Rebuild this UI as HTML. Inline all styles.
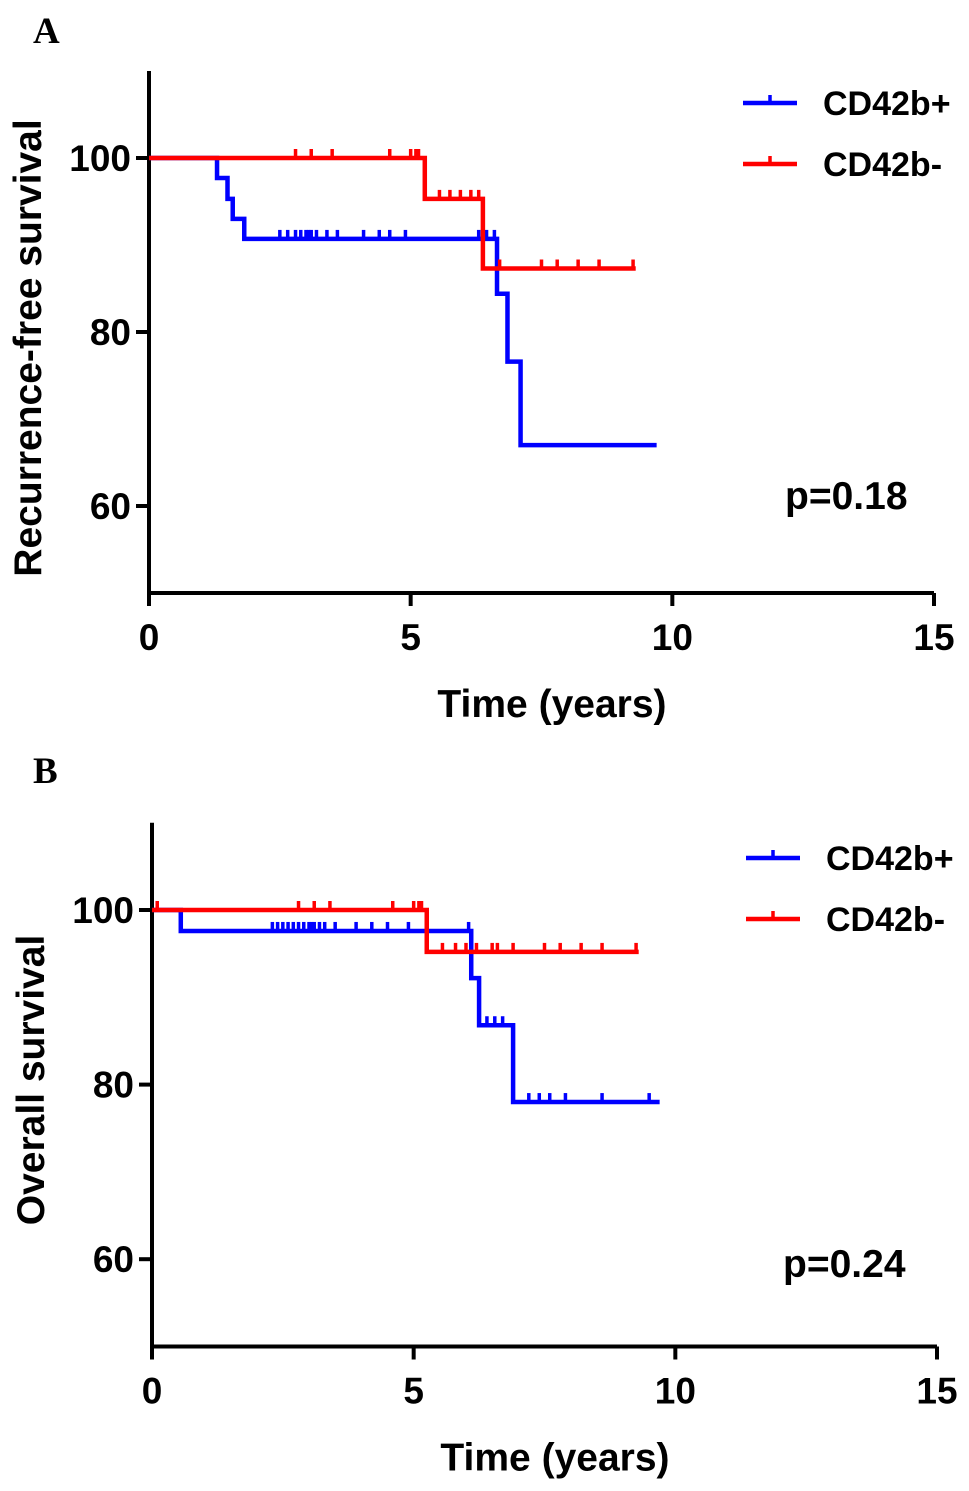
<!DOCTYPE html>
<html><head><meta charset="utf-8"><style>
html,body{margin:0;padding:0;background:#fff;}
svg{display:block;font-family:"Liberation Sans",Arial,sans-serif;}
</style></head><body>
<svg id="fig" width="969" height="1491" viewBox="0 0 969 1491" xmlns="http://www.w3.org/2000/svg"></svg>
<script>
// Panel A data (Recurrence-free survival)
const xTicks = [0, 5, 10, 15];
const yTicks = [60, 80, 100];
const aBlueT = [0, 1.3, 1.5, 1.6, 1.82, 6.65, 6.85, 7.1, 9.7];
const aBlueS = [100, 97.7, 95.3, 93.0, 90.7, 84.4, 76.6, 67.0, 67.0];
const aBlueCens = [2.5,2.65,2.8,2.9,3.0,3.05,3.1,3.2,3.4,3.6,4.1,4.4,4.6,4.9,6.3,6.45,6.6];
const aRedT = [0, 5.27, 6.38, 9.3];
const aRedS = [100, 95.3, 87.3, 87.3];
const aRedCens = [2.8,3.1,3.5,4.6,5.0,5.1,5.15,5.55,5.75,5.95,6.15,6.3,6.7,7.5,7.8,8.2,8.6,9.25];
// Panel B data (Overall survival)
const bBlueT = [0, 0.55, 6.1, 6.25, 6.9, 9.7];
const bBlueS = [100, 97.6, 92.2, 86.8, 78.0, 78.0];
const bBlueCens = [2.3,2.4,2.5,2.6,2.7,2.8,2.9,3.0,3.05,3.1,3.2,3.3,3.5,3.9,4.2,4.5,4.9,6.05,6.4,6.55,6.7,7.2,7.4,7.6,7.9,8.6,9.5];
const bRedT = [0, 5.25, 9.3];
const bRedS = [100, 95.2, 95.2];
const bRedCens = [0.1,2.8,3.1,3.4,4.6,5.0,5.1,5.15,5.55,5.8,6.0,6.2,6.5,6.6,6.9,7.5,7.8,8.2,8.6,9.25];

const NS = "http://www.w3.org/2000/svg";
const svg = document.getElementById('fig');
function mk(tag, attrs, parent) {
  const e = document.createElementNS(NS, tag);
  for (const k in attrs) e.setAttribute(k, attrs[k]);
  (parent || svg).appendChild(e);
  return e;
}
function stepY(T, S, t) { let v = S[0]; for (let i = 0; i < T.length; i++) if (T[i] <= t) v = S[i]; return v; }

function panel(cfg) {
  const g = mk('g', {});
  
  
  const x = t => cfg.x0 + t * (cfg.x1 - cfg.x0) / 15;
  const y = v => cfg.y100 + (100 - v) * cfg.ky;
  const yBottom = y(50), yTop = y(110);
  const lbl = mk('text', {x: cfg.lx, y: cfg.ly, 'font-family': '"Liberation Serif",serif', 'font-weight': 'bold', 'font-size': 37}, g);
  lbl.textContent = cfg.letter;
  
  
  const ax = mk('path', {d: `M${cfg.x0} ${yTop} V${yBottom} H${x(15)}`, stroke: '#000', 'stroke-width': 4, fill: 'none'}, g);
  
  
  xTicks.forEach(t => {
    mk('line', {x1: x(t), x2: x(t), y1: yBottom, y2: yBottom + 13, stroke: '#000', 'stroke-width': 4}, g);
    const tx = mk('text', {x: x(t), y: yBottom + 57, 'text-anchor': 'middle', 'font-size': 37, 'font-weight': 'bold'}, g);
    tx.textContent = t;
    
    
  });
  yTicks.forEach(v => {
    mk('line', {x1: cfg.x0 - 13, x2: cfg.x0, y1: y(v), y2: y(v), stroke: '#000', 'stroke-width': 4}, g);
    const tx = mk('text', {x: cfg.x0 - 18, y: y(v) + 13, 'text-anchor': 'end', 'font-size': 37, 'font-weight': 'bold'}, g);
    tx.textContent = v;
    
    
  });
  const xt = mk('text', {x: x(7.7), y: yBottom + 124, 'text-anchor': 'middle', 'font-size': 39, 'font-weight': 'bold'}, g);
  xt.textContent = 'Time (years)';
  
  
  const yt = mk('text', {transform: `translate(${cfg.x0 - 108},${cfg.ytY}) rotate(-90)`, 'text-anchor': 'middle', 'font-size': 39, 'font-weight': 'bold'}, g);
  yt.textContent = cfg.ytitle;
  
  
  const p = mk('text', {x: cfg.px, y: cfg.py, 'font-size': 39, 'font-weight': 'bold'}, g);
  p.textContent = cfg.pval;
  
  

  cfg.series.forEach((s, si) => {
    let d = `M${x(s.T[0])} ${y(s.S[0])}`;
    for (let i = 1; i < s.T.length; i++) d += ` H${x(s.T[i])} V${y(s.S[i])}`;
    const path = mk('path', {d: d, stroke: s.color, 'stroke-width': 4.5, fill: 'none'}, g);
    
    
    s.C.forEach(t => {
      const yy = y(stepY(s.T, s.S, t));
      const c = mk('line', {x1: x(t), x2: x(t), y1: yy, y2: yy - 9, stroke: s.color, 'stroke-width': 3.5}, g);
      
      
    });
    const ly = cfg.legY + si * 61;
    const lg = mk('g', {}, g);
    
    
    mk('line', {x1: cfg.legX, x2: cfg.legX + 54, y1: ly, y2: ly, stroke: s.color, 'stroke-width': 4.5}, lg);
    mk('line', {x1: cfg.legX + 27, x2: cfg.legX + 27, y1: ly, y2: ly - 8, stroke: s.color, 'stroke-width': 3.5}, lg);
    const lt = mk('text', {x: cfg.legX + 80, y: ly + 12, 'font-size': 34, 'font-weight': 'bold'}, lg);
    lt.textContent = s.label;
  });
}

panel({name: 'panel-a', letter: 'A', lx: 33, ly: 43, x0: 149, x1: 934, y100: 158, ky: 8.7,
  ytitle: 'Recurrence-free survival', ytY: 348, pval: 'p=0.18', px: 785, py: 509,
  legX: 743, legY: 103,
  series: [
    {key: 'cd42b-pos', label: 'CD42b+', color: '#0000ff', T: aBlueT, S: aBlueS, C: aBlueCens},
    {key: 'cd42b-neg', label: 'CD42b-', color: '#ff0000', T: aRedT, S: aRedS, C: aRedCens}
  ]});
panel({name: 'panel-b', letter: 'B', lx: 33, ly: 783, x0: 152, x1: 937, y100: 910, ky: 8.73,
  ytitle: 'Overall survival', ytY: 1080, pval: 'p=0.24', px: 783, py: 1277,
  legX: 746, legY: 858,
  series: [
    {key: 'cd42b-pos', label: 'CD42b+', color: '#0000ff', T: bBlueT, S: bBlueS, C: bBlueCens},
    {key: 'cd42b-neg', label: 'CD42b-', color: '#ff0000', T: bRedT, S: bRedS, C: bRedCens}
  ]});
</script>
</body></html>
